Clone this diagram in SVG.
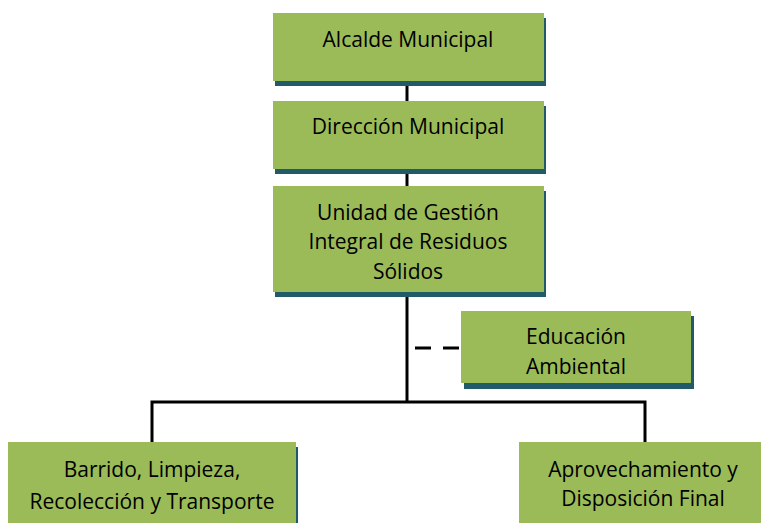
<svg xmlns="http://www.w3.org/2000/svg" width="761" height="523" viewBox="0 0 761 523">
<style>
.sh{fill:#215A69}
.bx{fill:#9BBB59}
.t{font-family:"Open Sans","Liberation Sans",sans-serif;font-size:21px;fill:#000;text-anchor:middle}
.ln{stroke:#000;stroke-width:3;fill:none}
</style>
<rect width="761" height="523" fill="#fff"/>
<g id="connectors">
<line class="ln" x1="407" y1="81" x2="407" y2="101"/>
<line class="ln" x1="407" y1="169" x2="407" y2="186"/>
<polyline class="ln" points="407,292 407,402"/>
<polyline class="ln" points="152,442 152,402 645,402 645,442"/>
<line class="ln" x1="415" y1="348" x2="461" y2="348" stroke-dasharray="16,12"/>
</g>
<g id="alcalde">
<rect class="sh" x="275" y="18" width="271" height="68"/>
<rect class="bx" x="273" y="13" width="271" height="68"/>
<text class="t" x="408" y="47">Alcalde Municipal</text>
</g>
<g id="direccion">
<rect class="sh" x="275" y="106" width="271" height="68"/>
<rect class="bx" x="273" y="101" width="271" height="68"/>
<text class="t" x="408" y="134">Dirección Municipal</text>
</g>
<g id="unidad">
<rect class="sh" x="275" y="191" width="271" height="106"/>
<rect class="bx" x="273" y="186" width="271" height="106"/>
<text class="t" x="408" y="220">Unidad de Gestión</text>
<text class="t" x="408" y="249">Integral de Residuos</text>
<text class="t" x="408" y="279">Sólidos</text>
</g>
<g id="educacion">
<rect class="sh" x="464" y="316" width="230" height="73"/>
<rect class="bx" x="461" y="311" width="230" height="72"/>
<text class="t" x="576" y="344">Educación</text>
<text class="t" x="576" y="374">Ambiental</text>
</g>
<g id="barrido">
<rect class="sh" x="10" y="447" width="288" height="80"/>
<rect class="bx" x="8" y="442" width="288" height="85"/>
<text class="t" x="152" y="477">Barrido, Limpieza,</text>
<text class="t" x="152" y="509">Recolección y Transporte</text>
</g>
<g id="aprovechamiento">
<rect class="bx" x="519" y="442" width="245" height="85"/>
<text class="t" x="643" y="477">Aprovechamiento y</text>
<text class="t" x="643" y="506">Disposición Final</text>
</g>
</svg>
